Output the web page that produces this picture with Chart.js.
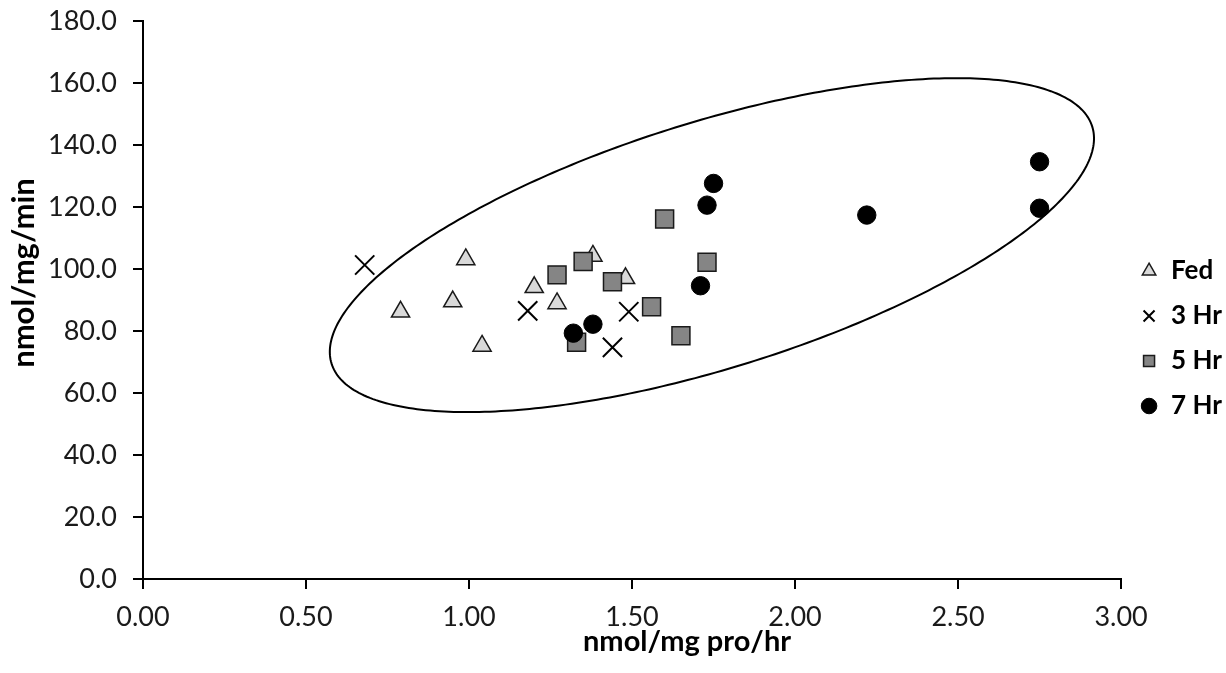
<!DOCTYPE html>
<html>
<head>
<meta charset="utf-8">
<script src="https://cdn.jsdelivr.net/npm/chart.js@4.4.1/dist/chart.umd.min.js"></script>
<style>
  html, body { margin: 0; padding: 0; background: #ffffff; }
  #wrap { width: 1226px; height: 673px; }
</style>
</head>
<body>
<div id="wrap"><canvas id="chart" width="1226" height="673"></canvas></div>
<script>
// Series: x = nmol/mg pro/hr, y = nmol/mg/min
const seriesNames = ['Fed', '3 Hr', '5 Hr', '7 Hr'];

const fedX = [0.79, 0.95, 0.99, 1.04, 1.20, 1.27, 1.38, 1.48];
const fedY = [86.2, 89.5, 103.1, 75.2, 94.1, 88.9, 104.2, 97.0];

const hr3X = [0.68, 1.18, 1.49, 1.44];
const hr3Y = [101.3, 86.5, 86.2, 74.7];

const hr5X = [1.27, 1.35, 1.44, 1.33, 1.56, 1.65, 1.73, 1.60];
const hr5Y = [98.1, 102.4, 95.9, 76.4, 87.8, 78.5, 102.2, 116.1];

const hr7X = [1.32, 1.38, 1.71, 1.73, 1.75, 2.22, 2.75, 2.75];
const hr7Y = [79.3, 82.2, 94.6, 120.6, 127.6, 117.4, 134.6, 119.6];

// Axis ticks
const xTickValues = [0, 0.5, 1.0, 1.5, 2.0, 2.5, 3.0];
const yTickValues = [0, 20, 40, 60, 80, 100, 120, 140, 160, 180];

// Axis titles
const xTitle = 'nmol/mg pro/hr';
const yTitle = 'nmol/mg/min';

// Grouping ellipse in data units: centre and two conjugate half-diameters
const ellipseCenter = [1.745, 107.7];
const ellipseHalfA = [1.1666, 38.23];
const ellipseHalfB = [0.1123, -37.94];

const toPoints = (xs, ys) => xs.map((x, i) => ({ x: x, y: ys[i] }));

const ellipsePlugin = {
  id: 'groupEllipse',
  beforeDatasetsDraw(chart) {
    const { ctx, scales: { x, y } } = chart;
    ctx.save();
    ctx.beginPath();
    const steps = 360;
    for (let i = 0; i <= steps; i++) {
      const t = (i / steps) * Math.PI * 2;
      const vx = ellipseCenter[0] + ellipseHalfA[0] * Math.cos(t) + ellipseHalfB[0] * Math.sin(t);
      const vy = ellipseCenter[1] + ellipseHalfA[1] * Math.cos(t) + ellipseHalfB[1] * Math.sin(t);
      const px = x.getPixelForValue(vx);
      const py = y.getPixelForValue(vy);
      if (i === 0) ctx.moveTo(px, py); else ctx.lineTo(px, py);
    }
    ctx.closePath();
    ctx.lineWidth = 2;
    ctx.strokeStyle = '#000000';
    ctx.stroke();
    ctx.restore();
  }
};

const axisTitlePlugin = {
  id: 'axisTitles',
  afterDraw(chart) {
    const { ctx, chartArea } = chart;
    ctx.save();
    ctx.fillStyle = '#000000';
    ctx.textAlign = 'center';
    ctx.textBaseline = 'alphabetic';
    ctx.font = 'bold 29px Lato';
    ctx.fillText(xTitle, (chartArea.left + chartArea.right) / 2 + 55, chartArea.bottom + 72);
    ctx.translate(24, (chartArea.top + chartArea.bottom) / 2 - 27);
    ctx.rotate(-Math.PI / 2);
    ctx.textBaseline = 'middle';
    ctx.font = 'bold 31px Lato';
    ctx.fillText(yTitle, 0, 0);
    ctx.restore();
  }
};

const axisColor = '#000000';

new Chart(document.getElementById('chart'), {
  type: 'scatter',
  data: {
    datasets: [
      {
        label: seriesNames[0],
        data: toPoints(fedX, fedY),
        pointStyle: 'triangle',
        pointRadius: 10.5,
        pointHoverRadius: 10.5,
        backgroundColor: '#d9d9d9',
        borderColor: '#1a1a1a',
        borderWidth: 1.5,
        order: 4
      },
      {
        label: seriesNames[1],
        data: toPoints(hr3X, hr3Y),
        pointStyle: 'crossRot',
        pointRadius: 13.6,
        pointHoverRadius: 13.6,
        backgroundColor: '#000000',
        borderColor: '#000000',
        borderWidth: 2,
        order: 3
      },
      {
        label: seriesNames[2],
        data: toPoints(hr5X, hr5Y),
        pointStyle: 'rect',
        pointRadius: 12.7,
        pointHoverRadius: 12.7,
        backgroundColor: '#858585',
        borderColor: '#1a1a1a',
        borderWidth: 1.5,
        order: 2
      },
      {
        label: seriesNames[3],
        data: toPoints(hr7X, hr7Y),
        pointStyle: 'circle',
        pointRadius: 9.2,
        pointHoverRadius: 9.2,
        backgroundColor: '#000000',
        borderColor: '#000000',
        borderWidth: 1,
        order: 1
      }
    ]
  },
  options: {
    responsive: false,
    animation: false,
    devicePixelRatio: 1,
    layout: { padding: { top: 21, right: -6, bottom: 17, left: 0 } },
    plugins: {
      tooltip: { enabled: false },
      legend: {
        position: 'right',
        labels: {
          usePointStyle: true,
          boxWidth: 18,
          boxHeight: 11,
          padding: 19,
          color: '#000000',
          font: { family: 'Lato', size: 26, weight: 'bold' },
          sort: (a, b) => a.datasetIndex - b.datasetIndex
        }
      }
    },
    scales: {
      x: {
        type: 'linear',
        min: 0,
        max: 3,
        afterBuildTicks: (s) => { s.ticks = xTickValues.map(v => ({ value: v })); },
        afterFit: (s) => { s.height = 77; },
        grid: { display: true, drawOnChartArea: false, drawTicks: true, tickLength: 10, color: axisColor, lineWidth: 2 },
        border: { display: true, color: axisColor, width: 2 },
        ticks: {
          padding: 12,
          color: '#1a1a1a',
          font: { family: 'Lato', size: 27 },
          maxRotation: 0,
          callback: (v) => Number(v).toFixed(2)
        },
        title: { display: false }
      },
      y: {
        type: 'linear',
        min: 0,
        max: 180,
        afterBuildTicks: (s) => { s.ticks = yTickValues.map(v => ({ value: v })); },
        afterFit: (s) => { s.width = 143; s.paddingTop = 0; s.paddingBottom = 0; },
        grid: { display: true, drawOnChartArea: false, drawTicks: true, tickLength: 10, color: axisColor, lineWidth: 2 },
        border: { display: true, color: axisColor, width: 2 },
        ticks: {
          padding: 16,
          color: '#1a1a1a',
          font: { family: 'Lato', size: 27 },
          callback: (v) => Number(v).toFixed(1)
        },
        title: { display: false }
      }
    }
  },
  plugins: [ellipsePlugin, axisTitlePlugin]
});
</script>
</body>
</html>
